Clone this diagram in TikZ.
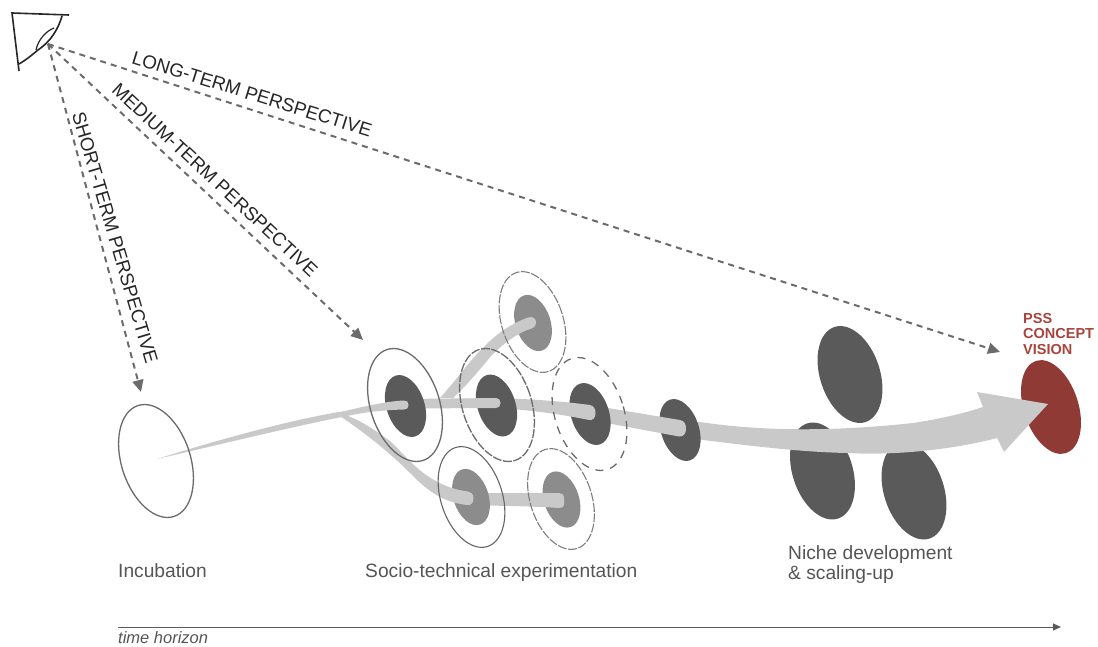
\documentclass[tikz,border=0pt]{standalone}
\usepackage{fontspec}
\setmainfont{Liberation Sans}
\usetikzlibrary{shapes.geometric,arrows.meta}
\definecolor{darkE}{HTML}{5A5A5A}
\definecolor{midE}{HTML}{8C8C8C}
\definecolor{bandC}{HTML}{C9C9C9}
\definecolor{redE}{HTML}{8F3A35}
\definecolor{redT}{HTML}{A8443B}
\definecolor{txtC}{HTML}{555555}
\tikzset{
  ell/.style={ellipse,inner sep=0pt,outer sep=0pt,rotate=18},
  bigE/.style={ell,minimum width=69pt,minimum height=116.6pt,line width=1.3pt,draw=#1},
  smallE/.style={ell,minimum width=61.5pt,minimum height=104pt,line width=1.1pt,draw=#1},
  coreD/.style={ell,minimum width=38pt,minimum height=64pt,fill=darkE},
  coreM/.style={ell,minimum width=35pt,minimum height=58pt,fill=midE},
  nicheE/.style={ell,minimum width=60pt,minimum height=100pt,fill=darkE},
  band/.style={fill=bandC},
  persp/.style={draw=darkE!90,line width=2pt,dash pattern=on 6pt off 5pt,-{Triangle[length=12pt,width=11pt]}},
  persplabel/.style={font=\fontsize{18.8}{21}\selectfont,text=black!85,inner sep=0pt},
  stage/.style={font=\fontsize{19.2}{20.5}\selectfont,text=txtC,inner sep=0pt,anchor=base west,align=left},
}
\begin{document}
\begin{tikzpicture}[x=1pt,y=-1pt]
\useasboundingbox (0,0) rectangle (1098,647);
% eye
\draw[line width=1.6pt,black!85] (69,15) -- (12,13) -- (19,71);
\draw[line width=1.6pt,black!85] (62,16) .. controls (58,30) and (50,42) .. (38,50) .. controls (32,55) and (26,60) .. (19,64);
\draw[line width=1.2pt,black!85] (36,50) .. controls (38,40) and (46,31) .. (54,28);
\coordinate (eye) at (48,44);
\coordinate (endS) at (141,392);
\coordinate (endM) at (363,340);
\coordinate (endL) at (1000,352);
\draw[persp] (eye) -- (endS);
\draw[persp] (eye) -- (endM);
\draw[persp] (eye) -- (endL);
\node[persplabel,rotate=-17.3] (lblL) at (252,94) {LONG-TERM PERSPECTIVE};
\node[persplabel,rotate=-43] (lblM) at (215,180) {MEDIUM-TERM PERSPECTIVE};
\node[persplabel,rotate=-73.5] (lblS) at (115,238) {SHORT-TERM PERSPECTIVE};
% niche and vision
\node[nicheE] (n1) at (850,374.5) {};
\node[nicheE] (n2) at (822.5,471) {};
\node[nicheE] (n3) at (914,491) {};
\node[ell,minimum width=54.6pt,minimum height=97pt,fill=redE] (vision) at (1051,407) {};
% main arrow
\fill[band] (680,421) -- (700,422) .. controls (760,431) and (830,432) .. (913,423) .. controls (940,419) and (965,413) .. (983,407) -- (977,392) -- (1048,404) -- (1004,452) -- (997,438) .. controls (960,448) and (900,456) .. (847,453) .. controls (800,452) and (750,446) .. (680,437) -- cycle;
\node[coreD] (c4) at (680,430) {};
\fill[band] (590,405) -- (680,420) .. controls (685,421) and (686,425) .. (686,429) .. controls (686,434) and (683,437) .. (679,436.5) -- (590,420) -- cycle;
\node[coreD] (c3) at (590,414) {};
\fill[band] (497,398) .. controls (530,399) and (560,401) .. (590,405) .. controls (594,406) and (595.5,409) .. (595.5,413) .. controls (595.5,418) and (593,420.5) .. (589,420) .. controls (560,414) and (530,410) .. (497,408) -- cycle;
\node[coreD] (c2) at (496.5,405.5) {};
\node[coreM] (ct) at (533,323) {};
\fill[band] (405,399) -- (496,398) .. controls (499,398) and (500.5,400) .. (500.5,403) .. controls (500.5,406) and (499,408) .. (496,408) -- (405,408.5) -- cycle;
\fill[band] (440,398) .. controls (458,378) and (470,360) .. (483,348) .. controls (495,335) and (510,324) .. (528,317.5) .. controls (533,316) and (536,319) .. (536,322) .. controls (536,326) and (534,328) .. (530,329) .. controls (518,333) and (505,342) .. (491,356) .. controls (478,372) and (465,387) .. (453,398) -- cycle;
\node[coreD] (c1) at (405.5,406) {};
\node[coreM] (cb2) at (561.5,499.5) {};
\fill[band] (471,493) -- (559,493) .. controls (562,493) and (564,495) .. (564,497) -- (564,505) .. controls (564,507) and (562,508) .. (559,508) .. controls (530,506) and (500,506) .. (471,505) -- cycle;
\node[coreM] (cb1) at (471,497) {};
\fill[band] (343,414) .. controls (360,420) and (375,430) .. (390,441) .. controls (405,454) and (425,486) .. (468,491.5) .. controls (471,492) and (473.5,494) .. (473.5,498) .. controls (473.5,503) and (471,505.5) .. (467,505) .. controls (440,502) and (425,488) .. (410,473) .. controls (395,458) and (375,440) .. (340,416) -- cycle;
\fill[band] (157,459) .. controls (230,436) and (300,418) .. (345,411) .. controls (370,405) and (390,401) .. (404,400.5) .. controls (407,400.5) and (408.5,402) .. (408.5,405) .. controls (408.5,408) and (407,409.5) .. (404,409.5) .. controls (385,410) and (365,412) .. (347,416) .. controls (300,425) and (230,442) .. (157,459) -- cycle;
% outlines
\node[bigE=darkE!90] (inc) at (156,461) {};
\node[bigE=darkE!90] (o1) at (405,405) {};
\node[bigE=darkE!90,dash pattern=on 9pt off 1.5pt] (o2) at (497,405) {};
\node[bigE=darkE!90,dash pattern=on 8pt off 7pt] (o3) at (589.5,414) {};
\node[smallE=midE!90!black,dash pattern=on 9pt off 1.5pt] (ot) at (532.5,322) {};
\node[smallE=black!60] (ob1) at (471.5,497) {};
\node[smallE=midE!90!black,dash pattern=on 9pt off 1.5pt] (ob2) at (561,499) {};
% labels
\node[font=\bfseries\fontsize{14.5}{15.5}\selectfont,text=redT,inner sep=0pt,anchor=north west,align=left] (pss) at (1023,313) {PSS\\CONCEPT\\VISION};
\node[stage] (t1) at (118,577) {Incubation};
\node[stage] (t2) at (365,577) {Socio-technical experimentation};
\node[stage,anchor=north west] (t3) at (788,545) {Niche development\\\&\ scaling-up};
\coordinate (ta) at (118,627);
\coordinate (tb) at (1061,627);
\draw[line width=1pt,darkE,-{Triangle[length=8pt,width=7pt]}] (ta) -- (tb);
\node[font=\itshape\fontsize{16.5}{18}\selectfont,text=txtC,inner sep=0pt,anchor=base west] (t4) at (118,643) {time horizon};
\end{tikzpicture}
\end{document}
